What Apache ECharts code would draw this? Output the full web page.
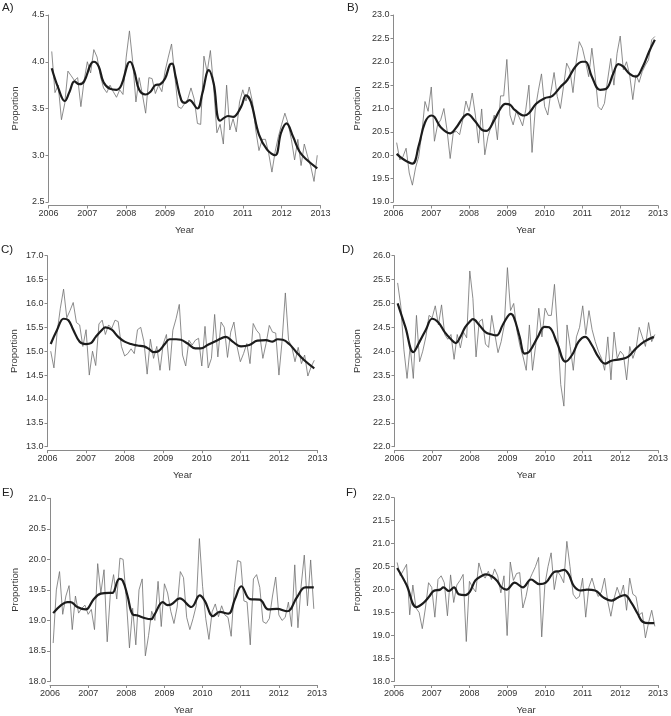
<!DOCTYPE html>
<html>
<head>
<meta charset="utf-8">
<script src="https://cdn.jsdelivr.net/npm/echarts@6/dist/echarts.min.js"></script>
<style>
  html, body { margin: 0; background: #fff; }
  #chart { width: 671px; height: 716px; }
</style>
</head>
<body>
<div id="chart"></div>
<script>
// x tick labels, shared by all panels
const yearTicks = ['2006', '2007', '2008', '2009', '2010', '2011', '2012', '2013']

// monthly values, Feb 2006 .. Dec 2012 (one per month)
const aMonthly = [4.11, 3.67, 3.75, 3.38, 3.55, 3.9, 3.85, 3.8, 3.83, 3.52, 3.8, 4.0, 3.88, 4.13, 4.05, 3.85, 3.72, 3.67, 3.75, 3.68,
  3.62, 3.7, 3.65, 4.05, 4.33, 4.0, 3.57, 3.83, 3.65, 3.45, 3.83, 3.82, 3.66, 3.75, 3.68, 3.9, 4.05, 4.19, 3.85, 3.52,
  3.5, 3.55, 3.6, 3.72, 3.6, 3.34, 3.33, 4.06, 3.89, 4.12, 3.73, 3.24, 3.33, 3.12, 3.75, 3.27, 3.39, 3.25, 3.57, 3.7,
  3.58, 3.73, 3.57, 3.27, 3.05, 3.17, 3.17, 3.02, 2.82, 3.04, 3.2, 3.33, 3.45, 3.34, 3.17, 2.95, 3.17, 2.89, 3.12, 2.99,
  2.88, 2.72, 3.0]
// trend line: [month since Jan 2006, value]
const aTrend = [[1, 3.93], [3, 3.72], [5, 3.58], [6.5, 3.68], [8, 3.79], [9.5, 3.76], [11, 3.79], [13, 3.97], [14, 4.0], [15.5, 3.95],
  [17, 3.78], [19, 3.71], [21, 3.7], [22.5, 3.75], [24.5, 3.98], [25.2, 4.0], [26.5, 3.9], [28, 3.7], [30, 3.65], [31.5, 3.68],
  [33, 3.75], [34.5, 3.76], [36, 3.82], [37.5, 3.97], [38.2, 3.98], [39.2, 3.85], [41, 3.59], [42.2, 3.56], [43.5, 3.59], [46, 3.5],
  [47.5, 3.66], [49.5, 3.91], [51, 3.77], [53, 3.37], [55.5, 3.42], [57, 3.41], [59.5, 3.52], [61, 3.64], [62.5, 3.57], [65, 3.22],
  [67.5, 3.06], [70, 3.0], [71.8, 3.24], [73.5, 3.34], [75.5, 3.2], [77.5, 3.04], [79.5, 2.96], [83, 2.86]]
const aTicks = ['2.5', '3.0', '3.5', '4.0', '4.5']

const bMonthly = [20.27, 19.9, 19.97, 20.15, 19.62, 19.36, 19.73, 19.97, 20.47, 21.15, 20.94, 21.46, 20.3, 20.65, 20.76, 21.0, 20.54, 19.93, 20.49, 20.51,
  20.44, 20.76, 21.16, 20.94, 21.33, 20.86, 20.26, 20.99, 20.01, 20.4, 20.62, 20.86, 20.33, 21.27, 21.27, 22.05, 20.86, 20.65, 20.94, 20.8,
  20.63, 20.97, 21.5, 20.06, 20.97, 21.38, 21.74, 21.04, 20.86, 21.36, 21.77, 21.26, 21.0, 21.47, 21.97, 21.83, 21.34, 21.98, 22.43, 22.29,
  22.0, 21.68, 22.29, 21.72, 21.04, 20.97, 21.11, 21.61, 22.07, 21.5, 22.18, 22.55, 21.83, 22.0, 21.72, 21.19, 21.72, 21.56, 21.79, 21.93,
  22.04, 22.47, 22.54]
const bTrend = [[1, 20.03], [3, 19.92], [6, 19.82], [8, 20.2], [10, 20.7], [12, 20.85], [13, 20.82], [15, 20.6], [18, 20.47], [20, 20.6],
  [22, 20.8], [23.5, 20.88], [26, 20.72], [28, 20.55], [29.5, 20.52], [32, 20.75], [34, 21.0], [35.5, 21.1], [37, 21.08], [38.5, 20.97],
  [41.5, 20.85], [43, 20.9], [45.3, 21.1], [48, 21.22], [50.5, 21.27], [53, 21.46], [55.2, 21.61], [57.8, 21.9], [60, 22.0], [61, 22.0],
  [63, 21.68], [65.6, 21.4], [67.7, 21.43], [69.8, 21.75], [71.4, 21.95], [72.9, 21.9], [75, 21.74], [77, 21.68], [79.2, 21.9], [81.2, 22.22],
  [83, 22.47]]
// as printed in the source figure (the 21.5 tick reads 22.5)
const bTicks = ['19.0', '19.5', '20.0', '20.5', '21.0', '22.5', '22.0', '22.5', '23.0']

const cMonthly = [15.0, 14.65, 15.4, 15.9, 16.3, 15.7, 15.85, 16.02, 15.6, 15.55, 15.1, 15.45, 14.5, 15.0, 14.7, 15.57, 15.65, 15.35, 15.55, 15.48,
  15.65, 15.62, 15.1, 14.9, 14.95, 15.05, 14.95, 15.45, 15.5, 15.2, 14.52, 15.25, 14.85, 15.1, 14.6, 15.15, 15.35, 14.6, 15.44, 15.68,
  15.98, 14.92, 14.69, 15.23, 15.13, 15.23, 15.27, 14.69, 15.52, 14.65, 14.85, 15.77, 14.88, 15.61, 15.5, 14.87, 15.4, 15.61, 15.09, 14.78,
  14.95, 15.16, 14.74, 15.58, 15.44, 15.36, 14.85, 15.16, 15.54, 15.4, 15.38, 14.5, 15.23, 16.22, 15.23, 15.09, 14.78, 15.08, 14.74, 14.92,
  14.48, 14.67, 14.81]
const cTrend = [[1, 15.15], [3, 15.45], [5, 15.68], [6.5, 15.65], [8, 15.45], [10, 15.2], [12, 15.15], [13.5, 15.17], [15, 15.3], [17, 15.45],
  [18, 15.5], [20, 15.45], [22, 15.3], [24, 15.2], [26, 15.15], [28, 15.12], [30, 15.1], [31.5, 15.05], [33, 14.98], [34.5, 15.0],
  [36.5, 15.15], [38, 15.25], [40, 15.25], [41.5, 15.24], [43.6, 15.16], [46, 15.06], [47.7, 15.06], [49.8, 15.13], [52.9, 15.23], [55.5, 15.3],
  [57.6, 15.2], [60.2, 15.1], [62.8, 15.13], [65.3, 15.22], [68, 15.23], [70, 15.2], [71.6, 15.25], [73.2, 15.24], [75.2, 15.15], [77.3, 14.99],
  [79.9, 14.81], [83, 14.64]]
const cTicks = ['13.0', '13.5', '14.0', '14.5', '15.0', '15.5', '16.0', '16.5', '17.0']

const dMonthly = [25.43, 24.95, 24.03, 23.43, 24.1, 23.43, 24.75, 23.78, 24.0, 24.3, 24.75, 24.7, 24.95, 24.55, 24.97, 24.35, 24.25, 24.35, 23.83, 24.35,
  24.07, 24.4, 24.28, 25.68, 25.1, 23.88, 24.62, 24.67, 24.15, 24.08, 24.75, 24.35, 23.97, 24.2, 24.55, 25.75, 24.85, 25.0, 24.44, 24.11,
  23.88, 23.6, 24.55, 23.6, 24.12, 24.9, 24.3, 24.9, 24.75, 24.75, 25.4, 24.4, 23.3, 22.85, 24.55, 24.1, 23.6, 24.3, 24.5, 24.95,
  24.35, 24.85, 24.45, 24.2, 24.0, 23.85, 23.6, 24.3, 23.4, 24.4, 23.85, 24.0, 23.92, 23.4, 24.1, 23.85, 24.05, 24.5, 24.3, 24.1,
  24.6, 24.2, 24.35]
const dTrend = [[1, 25.0], [3.5, 24.5], [6, 23.98], [8, 24.2], [10, 24.45], [12, 24.68], [14, 24.6], [16, 24.4], [18, 24.25], [19.5, 24.17],
  [21, 24.3], [22.5, 24.5], [24, 24.62], [25, 24.67], [27, 24.55], [29, 24.4], [31, 24.35], [32.5, 24.33], [34.5, 24.55], [36, 24.72],
  [37, 24.78], [38, 24.72], [39.9, 24.3], [41.5, 23.95], [43, 23.99], [45.7, 24.3], [47.8, 24.51], [49.3, 24.5], [51.9, 24.16], [54.5, 23.78],
  [56.6, 23.92], [58.7, 24.2], [60.8, 24.3], [62.9, 24.13], [65, 23.88], [67.1, 23.74], [69.2, 23.8], [71.8, 23.83], [74.4, 23.88], [77, 24.06],
  [79.6, 24.2], [82.7, 24.3]]
const dTicks = ['22.0', '22.5', '23.0', '23.5', '24.0', '24.5', '25.0', '25.5', '26.0']

const eMonthly = [18.63, 19.5, 19.8, 19.1, 19.4, 19.57, 18.85, 19.4, 19.12, 19.2, 19.25, 19.1, 19.18, 18.85, 19.93, 19.45, 19.83, 18.65, 19.45, 19.75,
  19.35, 20.02, 20.0, 19.35, 18.55, 19.2, 18.6, 19.5, 19.68, 18.42, 18.75, 19.15, 19.0, 19.64, 18.9, 19.6, 19.45, 19.15, 18.95, 19.22,
  19.8, 19.7, 19.05, 18.85, 19.03, 19.24, 20.34, 19.56, 19.03, 18.69, 19.14, 19.27, 19.06, 19.24, 19.09, 19.05, 18.74, 19.54, 19.98, 19.96,
  19.32, 19.3, 18.6, 19.68, 19.75, 19.54, 18.98, 18.95, 19.03, 19.4, 19.71, 19.09, 19.0, 19.05, 19.3, 18.9, 19.91, 18.88, 19.56, 20.07,
  19.24, 19.99, 19.19]
const eTrend = [[1, 19.12], [3.5, 19.25], [5.4, 19.3], [6.5, 19.3], [8.6, 19.22], [11.2, 19.18], [12, 19.2], [13.8, 19.35], [16, 19.44], [18.6, 19.45],
  [19.6, 19.45], [21.8, 19.68], [22.9, 19.65], [24.4, 19.4], [26, 19.1], [27.6, 19.08], [29.7, 19.04], [31.8, 19.02], [32.9, 19.1], [35.5, 19.3],
  [37, 19.25], [38.1, 19.26], [40.8, 19.36], [44.5, 19.22], [47.1, 19.41], [48.7, 19.32], [51.3, 19.07], [53.4, 19.14], [56.1, 19.11], [58.2, 19.35],
  [60.2, 19.56], [62.9, 19.35], [66, 19.34], [68.7, 19.18], [71.4, 19.19], [74.6, 19.15], [77.7, 19.38], [80.3, 19.54], [83, 19.54]]
const eTicks = ['18.0', '18.5', '19.0', '19.5', '20.0', '20.5', '21.0']

const fMonthly = [20.59, 20.3, 20.42, 20.55, 19.45, 20.1, 19.6, 19.5, 19.15, 19.6, 20.15, 20.05, 19.4, 20.22, 20.3, 20.15, 19.43, 20.32, 19.72, 20.1,
  20.2, 20.33, 18.87, 20.18, 20.05, 19.95, 20.58, 20.35, 20.25, 20.4, 20.22, 20.45, 20.3, 19.93, 20.3, 19.0, 20.6, 20.2, 20.35, 20.37,
  19.6, 19.85, 20.2, 20.35, 20.5, 20.7, 18.97, 20.1, 20.5, 20.8, 20.0, 20.4, 20.3, 20.15, 21.05, 20.5, 19.9, 19.8, 19.85, 20.25,
  19.4, 20.05, 20.25, 20.0, 19.85, 19.95, 20.25, 19.75, 19.42, 19.8, 20.05, 19.85, 20.1, 19.55, 20.25, 19.9, 19.85, 19.45, 19.5, 18.95,
  19.28, 19.55, 19.2]
const fTrend = [[1, 20.47], [4, 20.1], [7.1, 19.62], [9.2, 19.7], [11.2, 19.85], [12.6, 19.97], [14.7, 20.0], [15.7, 20.05], [17.5, 19.97], [19.1, 20.05],
  [20.6, 19.9], [22.7, 19.88], [24.1, 19.95], [25.9, 20.2], [28, 20.3], [29.3, 20.33], [30.8, 20.3], [32.7, 20.2], [34.2, 20.05], [35.8, 20.0],
  [38.4, 20.15], [41, 20.05], [43.6, 20.22], [46.2, 20.12], [48.3, 20.15], [50.9, 20.38], [52.5, 20.4], [54.1, 20.43], [55.6, 20.33], [57.2, 20.08],
  [59.3, 19.98], [61.4, 20.0], [64, 19.98], [66.6, 19.83], [69.2, 19.76], [71.3, 19.83], [73.4, 19.88], [75.4, 19.73], [77.5, 19.48], [79.1, 19.3],
  [81.2, 19.27], [82.8, 19.27]]
const fTicks = ['18.0', '18.5', '19.0', '19.5', '20.0', '20.5', '21.0', '21.5', '22.0']

const font = '"Liberation Sans", Arial, sans-serif'
const axisColor = '#8a8a8a'
const textColor = '#333'

const panels = [
  { label: 'A)', monthly: aMonthly, trend: aTrend, ticks: aTicks, min: 2.5, max: 4.5,
    grid: { left: 48.5, top: 15, width: 272, height: 187 }, pos: [2, 2], nameGap: 28.5 },
  { label: 'B)', monthly: bMonthly, trend: bTrend, ticks: bTicks, min: 19, max: 23,
    grid: { left: 393.5, top: 15, width: 268, height: 187 }, pos: [347, 2], nameGap: 31 },
  { label: 'C)', monthly: cMonthly, trend: cTrend, ticks: cTicks, min: 13, max: 17,
    grid: { left: 47.5, top: 255.7, width: 270, height: 191 }, pos: [1, 244], nameGap: 28 },
  { label: 'D)', monthly: dMonthly, trend: dTrend, ticks: dTicks, min: 22, max: 26,
    grid: { left: 394.5, top: 255.7, width: 267, height: 191 }, pos: [342, 244], nameGap: 32 },
  { label: 'E)', monthly: eMonthly, trend: eTrend, ticks: eTicks, min: 18, max: 21,
    grid: { left: 50, top: 498.3, width: 267, height: 188 }, pos: [2, 487], nameGap: 30 },
  { label: 'F)', monthly: fMonthly, trend: fTrend, ticks: fTicks, min: 18, max: 22,
    grid: { left: 394, top: 497.7, width: 268, height: 189 }, pos: [346, 487], nameGap: 32 }
]

const chart = echarts.init(document.getElementById('chart'))

chart.setOption({
  animation: false,
  backgroundColor: '#fff',
  textStyle: { fontFamily: font },
  grid: panels.map(p => p.grid),
  xAxis: panels.map((p, k) => ({
    gridIndex: k,
    type: 'value',
    min: 2006,
    max: 2013,
    interval: 1,
    offset: 3.5,
    axisLine: { show: true, lineStyle: { color: axisColor, width: 1 } },
    axisTick: { show: true, length: 3, lineStyle: { color: axisColor } },
    splitLine: { show: false },
    axisLabel: {
      fontSize: 9, color: textColor, margin: 4, fontFamily: font,
      formatter: v => yearTicks[Math.round(v - 2006)]
    },
    name: 'Year',
    nameLocation: 'middle',
    nameGap: 20,
    nameTextStyle: { fontSize: 9.5, color: textColor, fontFamily: font }
  })),
  yAxis: panels.map((p, k) => ({
    gridIndex: k,
    type: 'value',
    min: p.min,
    max: p.max,
    interval: 0.5,
    axisLine: { show: true, lineStyle: { color: axisColor, width: 1 } },
    axisTick: { show: true, length: 3, lineStyle: { color: axisColor } },
    splitLine: { show: false },
    axisLabel: {
      fontSize: 9, color: textColor, margin: 4, fontFamily: font,
      formatter: v => p.ticks[Math.round((v - p.min) / 0.5)]
    },
    name: 'Proportion',
    nameLocation: 'middle',
    nameGap: p.nameGap,
    nameTextStyle: { fontSize: 9.5, color: textColor, fontFamily: font }
  })),
  graphic: panels.map(p => ({
    type: 'text',
    left: p.pos[0],
    top: p.pos[1],
    style: { text: p.label, fontSize: 11.5, fill: '#222', fontFamily: font }
  })),
  series: panels.flatMap((p, k) => [
    {
      type: 'line',
      xAxisIndex: k,
      yAxisIndex: k,
      data: p.monthly.map((v, i) => [2006 + (i + 1) / 12, v]),
      showSymbol: false,
      silent: true,
      lineStyle: { width: 0.8, color: '#707070' }
    },
    {
      type: 'line',
      xAxisIndex: k,
      yAxisIndex: k,
      data: p.trend.map(d => [2006 + d[0] / 12, d[1]]),
      smooth: 0.4,
      showSymbol: false,
      silent: true,
      lineStyle: { width: 2.2, color: '#1c1c1c' }
    }
  ])
})
</script>
</body>
</html>
